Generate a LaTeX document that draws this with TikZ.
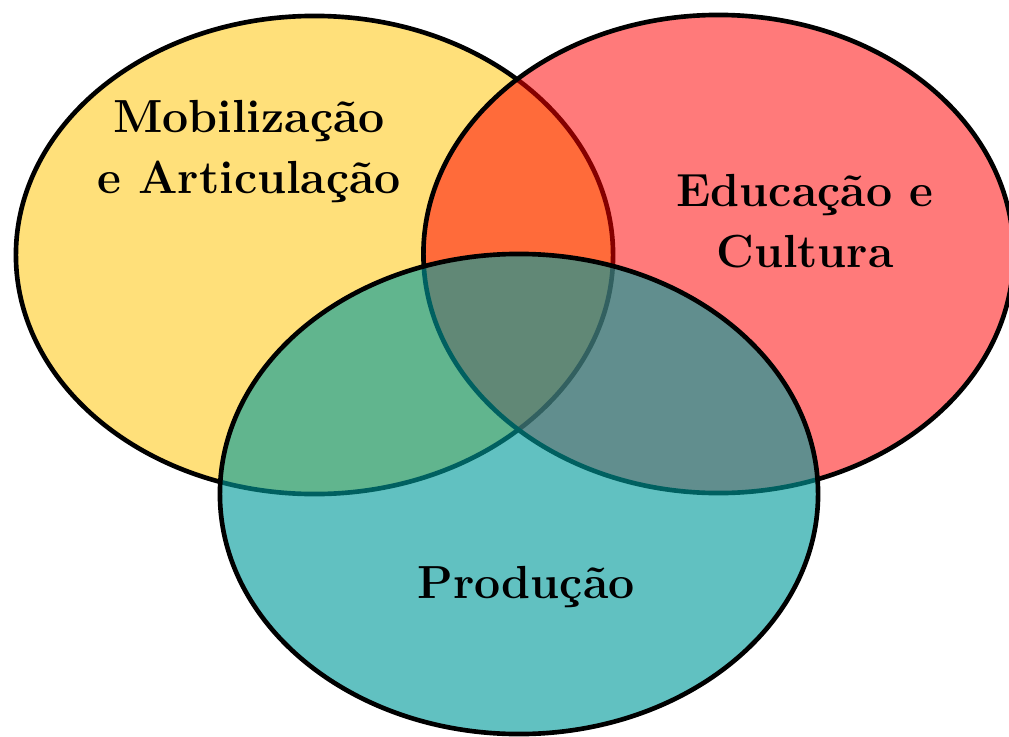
\documentclass[tikz,border=0pt]{standalone}
\usetikzlibrary{shapes.geometric}
\definecolor{mobcolor}{RGB}{255,224,122}
\definecolor{educolor}{RGB}{255,0,0}
\definecolor{procolor}{RGB}{0,155,155}
\tikzset{
	venn/.style={ellipse, draw=black, line width=3.3pt, inner sep=0pt},
	areaname/.style={font=\fontsize{33}{42.7}\selectfont\bfseries, align=center}
}
\begin{document}
\begin{tikzpicture}[x=0.025cm, y=-0.025cm]
		\useasboundingbox (0,0) rectangle (1009,737);
		
		\node[venn, fill=mobcolor, minimum width=14.925cm, minimum height=11.95cm] (M) at (314.5,255){};
		\node[venn, fill=educolor, fill opacity=0.52, minimum width=14.75cm, minimum height=11.95cm] (E) at (718.5,254){};
		\node[venn, fill=procolor, fill opacity=0.62, minimum width=14.95cm, minimum height=12cm] (P) at (519,494){};
		
		\node[areaname, anchor=base] (Mname) at (249,193){Mobilização\\e Articulação};
		\node[areaname, anchor=base] (Ename) at (805,267){Educação e\\Cultura};
		\node[areaname, anchor=base] (Pname) at (526,598){Produção};
	\end{tikzpicture}
\end{document}
